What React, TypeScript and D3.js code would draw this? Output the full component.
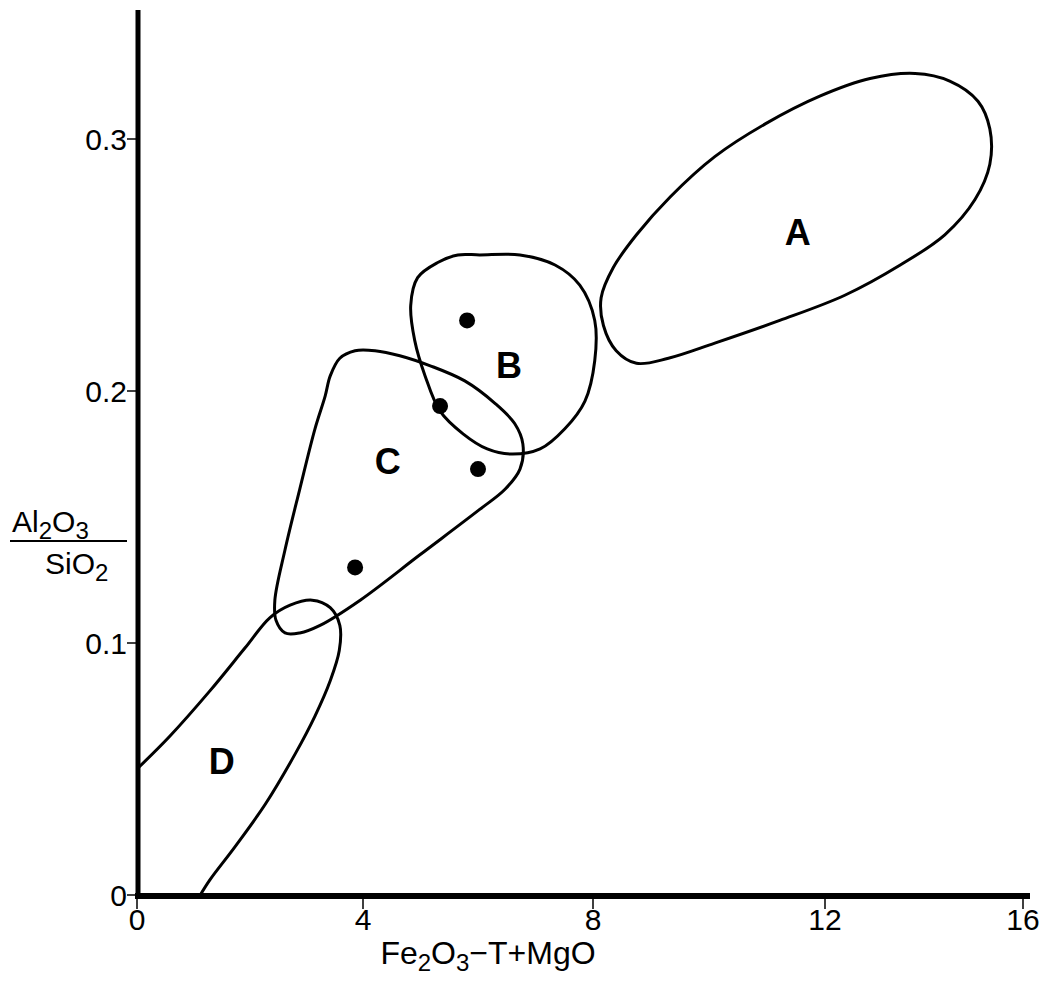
import React from 'react';
import * as d3 from 'd3';

// x ticks and y ticks as printed on the original diagram
const xTicks = [0, 4, 8, 12, 16];
const yTicks = [0, 0.1, 0.2, 0.3];

// sample points (Fe2O3-T+MgO, Al2O3/SiO2)
const samples = [
  [5.81, 0.228],
  [5.34, 0.194],
  [6.0, 0.169],
  [3.86, 0.13],
];

// field outlines
const fieldA = [
  [8.14, 0.237], [8.35, 0.249], [8.75, 0.262], [9.33, 0.277], [10.1, 0.293],
  [10.97, 0.306], [11.91, 0.317], [12.91, 0.324], [13.82, 0.326], [14.52, 0.323],
  [15.09, 0.315], [15.33, 0.304], [15.33, 0.29], [15.03, 0.276], [14.42, 0.262],
  [13.52, 0.25], [12.4, 0.238], [11.22, 0.228], [10.1, 0.219], [9.3, 0.213],
  [8.75, 0.211], [8.4, 0.216], [8.18, 0.226],
];
const fieldB = [
  [6.03, 0.254], [6.73, 0.254], [7.34, 0.25], [7.77, 0.242], [8.03, 0.228],
  [8.03, 0.212], [7.86, 0.196], [7.51, 0.185], [7.08, 0.177], [6.56, 0.175],
  [6.16, 0.177], [5.74, 0.183], [5.34, 0.192], [5.08, 0.206], [4.9, 0.22],
  [4.83, 0.234], [4.95, 0.245], [5.3, 0.251], [5.65, 0.254],
];
const fieldC = [
  [3.42, 0.206], [3.59, 0.213], [3.86, 0.216], [4.21, 0.216], [4.64, 0.214],
  [5.17, 0.21], [5.77, 0.204], [6.3, 0.195], [6.64, 0.187], [6.78, 0.179],
  [6.73, 0.169], [6.47, 0.161], [6.03, 0.153], [4.99, 0.135], [3.95, 0.117],
  [3.24, 0.107], [2.88, 0.104], [2.62, 0.104], [2.46, 0.109], [2.44, 0.117],
  [2.62, 0.137], [2.88, 0.161], [3.15, 0.185], [3.33, 0.198],
];
// D is open: it runs from the y axis round to the x axis
const fieldD = [
  [0, 0.05], [0.58, 0.063], [1.29, 0.081], [1.91, 0.098], [2.35, 0.11],
  [2.71, 0.115], [3.1, 0.117], [3.42, 0.114], [3.59, 0.107], [3.58, 0.097],
  [3.42, 0.085], [3.15, 0.071], [2.8, 0.056], [2.27, 0.036], [1.73, 0.019],
  [1.29, 0.006], [1.12, 0],
];

const fieldLabels = [
  { name: 'A', x: 11.53, y: 0.263 },
  { name: 'B', x: 6.54, y: 0.21 },
  { name: 'C', x: 4.43, y: 0.172 },
  { name: 'D', x: 1.5, y: 0.053 },
];

const W = 1047;
const H = 992;
const font = '"Liberation Sans", Arial, sans-serif';

export default function App() {
  // the scanned axis is a little uneven, so x is mapped piece by piece
  const x = d3.scaleLinear().domain(xTicks).range([137, 363, 593, 825, 1023]);
  const y = d3.scaleLinear().domain([0, 0.3]).range([895, 139]);

  const closed = d3
    .line<number[]>()
    .x(d => x(d[0]))
    .y(d => y(d[1]))
    .curve(d3.curveCatmullRomClosed.alpha(0.5));
  const open = d3
    .line<number[]>()
    .x(d => x(d[0]))
    .y(d => y(d[1]))
    .curve(d3.curveCatmullRom.alpha(0.5));

  const x0 = x(0);
  const y0 = y(0);

  return (
    <svg
      width={W}
      height={H}
      style={{ position: 'absolute', left: 0, top: 0, background: '#fff' }}
      fontFamily={font}
    >
      {/* fields */}
      <g fill="none" stroke="#000" strokeWidth={3} strokeLinejoin="round">
        <path d={closed(fieldA) || ''} />
        <path d={closed(fieldB) || ''} />
        <path d={closed(fieldC) || ''} />
        <path d={open(fieldD) || ''} />
      </g>

      {samples.map((d, i) => (
        <circle key={i} cx={x(d[0])} cy={y(d[1])} r={8} fill="#000" />
      ))}

      {fieldLabels.map(d => (
        <text
          key={d.name}
          x={x(d.x)}
          y={y(d.y)}
          textAnchor="middle"
          dominantBaseline="central"
          fontSize={36}
          fontWeight="bold"
        >
          {d.name}
        </text>
      ))}

      {/* axes */}
      <line x1={x0 + 1} x2={x0 + 1} y1={10} y2={y0 + 2} stroke="#000" strokeWidth={5} />
      <line x1={x0 - 2} x2={1030} y1={y0 + 1} y2={y0 + 1} stroke="#000" strokeWidth={6} />

      {yTicks.map(t => (
        <g key={t}>
          <line x1={x0 - 10} x2={x0} y1={y(t)} y2={y(t)} stroke="#000" strokeWidth={1.5} />
          <text
            x={x0 - 10}
            y={y(t)}
            textAnchor="end"
            dominantBaseline="central"
            fontSize={30}
          >
            {t === 0 ? '0' : t.toFixed(1)}
          </text>
        </g>
      ))}

      {xTicks.map(t => (
        <g key={t}>
          <line x1={x(t)} x2={x(t)} y1={y0} y2={y0 + 14} stroke="#000" strokeWidth={1.5} />
          <text x={x(t)} y={y0 + 24} textAnchor="middle" dominantBaseline="central" fontSize={30}>
            {t}
          </text>
        </g>
      ))}

      {/* axis titles */}
      <text x={488} y={964} textAnchor="middle" fontSize={32}>
        Fe<tspan fontSize={24} dy={7}>2</tspan>
        <tspan dy={-7}>O</tspan>
        <tspan fontSize={24} dy={7}>3</tspan>
        <tspan dy={-7}>−T+MgO</tspan>
      </text>

      <text x={12} y={532} fontSize={30}>
        Al<tspan fontSize={24} dy={7}>2</tspan>
        <tspan dy={-7}>O</tspan>
        <tspan fontSize={24} dy={7}>3</tspan>
      </text>
      <line x1={10} x2={127} y1={541} y2={541} stroke="#000" strokeWidth={2} />
      <text x={45} y={574} fontSize={30}>
        SiO<tspan fontSize={24} dy={7}>2</tspan>
      </text>
    </svg>
  );
}
